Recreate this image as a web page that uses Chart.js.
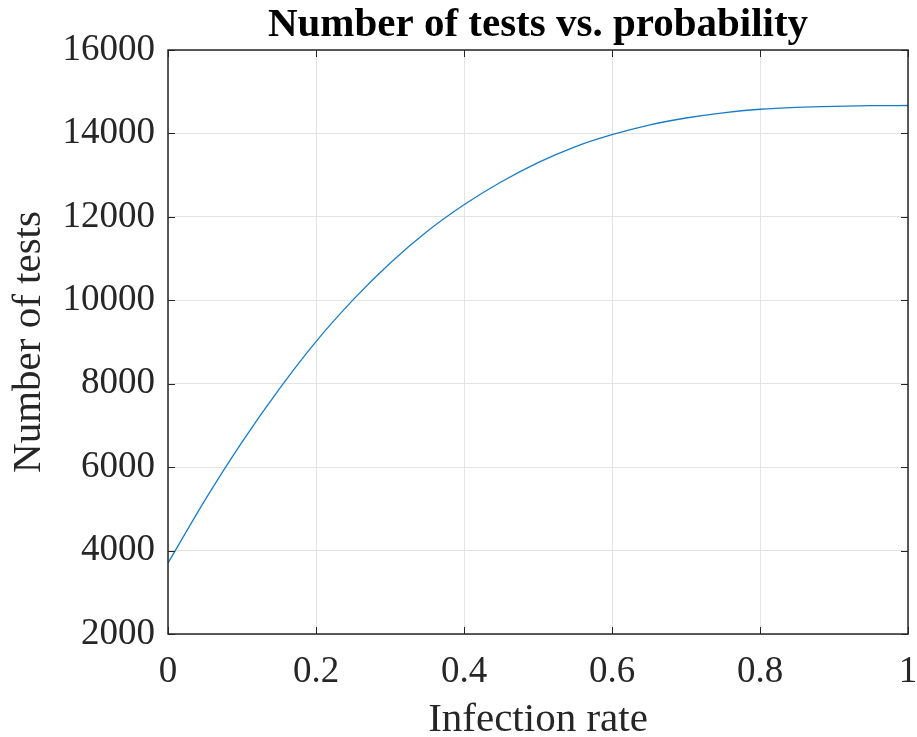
<!DOCTYPE html>
<html>
<head>
<meta charset="utf-8">
<script src="https://cdn.jsdelivr.net/npm/chart.js@4/dist/chart.umd.min.js"></script>
<style>
  html, body { margin: 0; padding: 0; background: #fff; }
  #wrap { width: 917px; height: 737px; }
</style>
</head>
<body>
<div id="wrap"><canvas id="chart-tests"></canvas></div>
<script>
const infectionRate = [0, 0.05, 0.1, 0.15, 0.2, 0.25, 0.3, 0.35, 0.4, 0.45, 0.5,
  0.55, 0.6, 0.65, 0.7, 0.75, 0.8, 0.85, 0.9, 0.95, 1];
const numberOfTests = [3700, 5210, 6600, 7865, 9010, 10010, 10890, 11650, 12290, 12835, 13300,
  13680, 13970, 14200, 14370, 14495, 14580, 14625, 14650, 14665, 14670];
const xTicks = [0, 0.2, 0.4, 0.6, 0.8, 1];
const yTicks = [2000, 4000, 6000, 8000, 10000, 12000, 14000, 16000];

const axisColor = "#262626";
const serif = "'Liberation Serif', 'Times New Roman', serif";

// box around the plot with short inward tick marks on every side
const boxTicks = {
  id: "boxTicks",
  afterDraw(chart) {
    const { ctx, chartArea: a, scales } = chart;
    const len = 7;
    ctx.save();
    ctx.strokeStyle = axisColor;
    ctx.lineWidth = 1;
    ctx.beginPath();
    xTicks.forEach((v) => {
      const px = Math.round(scales.x.getPixelForValue(v)) + 0.5;
      ctx.moveTo(px, a.bottom); ctx.lineTo(px, a.bottom - len);
      ctx.moveTo(px, a.top); ctx.lineTo(px, a.top + len);
    });
    yTicks.forEach((v) => {
      const py = Math.round(scales.y.getPixelForValue(v)) + 0.5;
      ctx.moveTo(a.left, py); ctx.lineTo(a.left + len, py);
      ctx.moveTo(a.right, py); ctx.lineTo(a.right - len, py);
    });
    ctx.stroke();
    ctx.lineWidth = 1.5;
    ctx.strokeRect(a.left, a.top, a.right - a.left, a.bottom - a.top);
    ctx.restore();
  },
};

new Chart(document.getElementById("chart-tests"), {
  type: "line",
  data: {
    datasets: [{
      data: infectionRate.map((x, i) => ({ x, y: numberOfTests[i] })),
      borderColor: "#1a7dc4",
      borderWidth: 1.3,
      pointRadius: 0,
      cubicInterpolationMode: "monotone",
      fill: false,
    }],
  },
  options: {
    responsive: true,
    maintainAspectRatio: false,
    animation: false,
    layout: { padding: 0 },
    plugins: {
      legend: { display: false },
      tooltip: { enabled: false },
      title: {
        display: true,
        text: "Number of tests vs. probability",
        color: "#000",
        fullSize: false,
        font: { family: serif, size: 41, weight: "bold", lineHeight: 1 },
        padding: { top: 5, bottom: 4 },
      },
    },
    scales: {
      x: {
        type: "linear",
        min: 0,
        max: 1,
        afterFit: (scale) => {
          scale.height = 103;
          scale.paddingLeft = 0;
          scale.paddingRight = 9;
        },
        afterBuildTicks: (scale) => { scale.ticks = xTicks.map((value) => ({ value })); },
        grid: { color: "#e3e3e3", drawTicks: false },
        border: { display: false },
        ticks: {
          color: axisColor,
          padding: 16,
          maxRotation: 0,
          font: { family: serif, size: 37 },
          callback: (v) => String(v),
        },
        title: {
          display: true,
          text: "Infection rate",
          color: axisColor,
          font: { family: serif, size: 41, lineHeight: 0.6 },
          padding: { top: 0, bottom: 4 },
        },
      },
      y: {
        min: 2000,
        max: 16000,
        afterFit: (scale) => { scale.width = 168; },
        afterBuildTicks: (scale) => { scale.ticks = yTicks.map((value) => ({ value })); },
        grid: { color: "#e3e3e3", drawTicks: false },
        border: { display: false },
        ticks: {
          color: axisColor,
          padding: 13,
          font: { family: serif, size: 37 },
          callback: (v) => String(v),
        },
        title: {
          display: true,
          text: "Number of tests",
          color: axisColor,
          font: { family: serif, size: 41, lineHeight: 1.2 },
          padding: { top: 5, bottom: 0 },
        },
      },
    },
  },
  plugins: [boxTicks],
});
</script>
</body>
</html>
